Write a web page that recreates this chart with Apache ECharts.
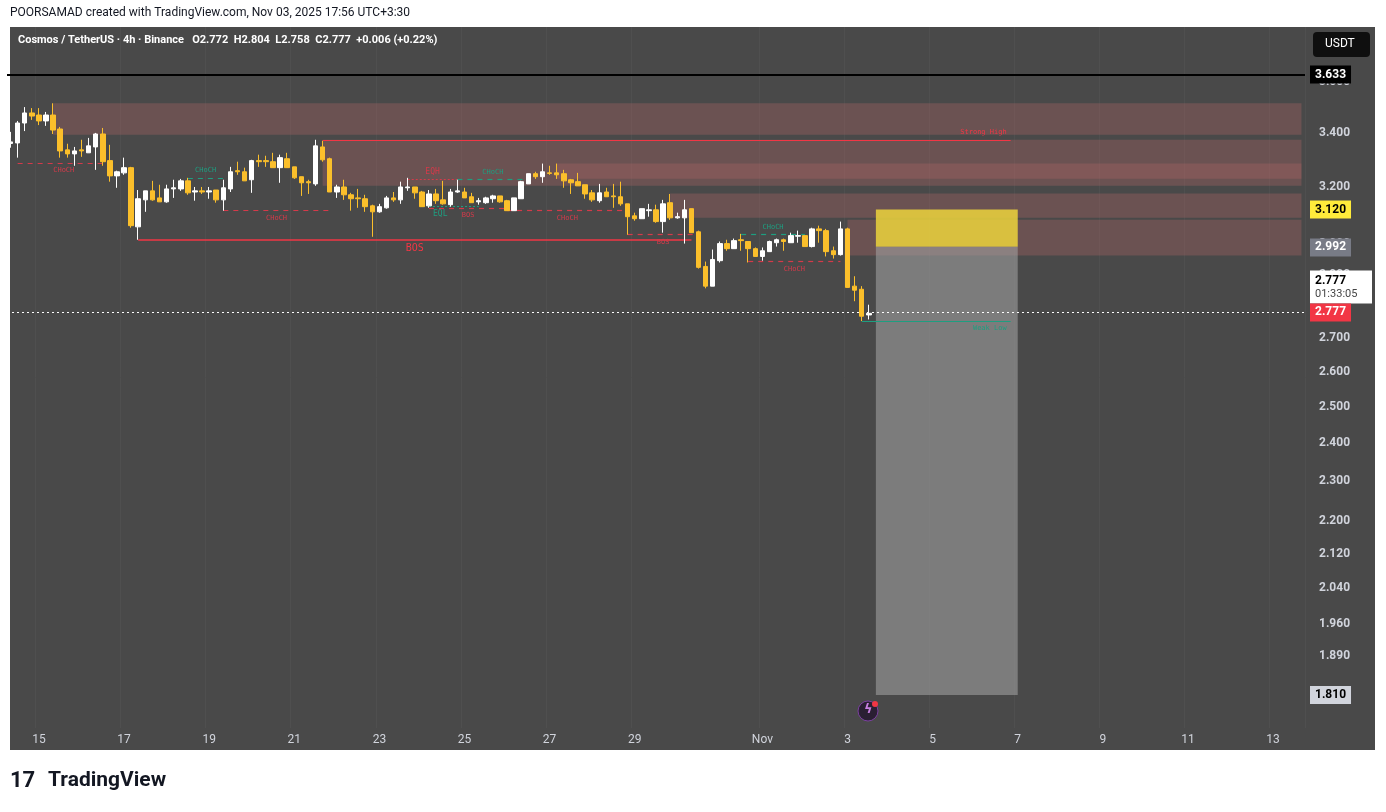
<!DOCTYPE html>
<html>
<head>
<meta charset="utf-8">
<script src="https://cdn.jsdelivr.net/npm/echarts@6/dist/echarts.min.js"></script>
<style>
  html, body { margin: 0; padding: 0; background: #ffffff; }
  #chart { width: 1386px; height: 812px; }
</style>
</head>
<body>
<div id="chart"></div>
<script>
// ATOM/USDT 4h, candles from index -4 (Oct 14 08:00) to 117 (Nov 3 12:00)
const firstIdx = -4;
const lastSlot = 178;

// [open, close, low, high]
const candles = [
  [3.360, 3.366, 3.344, 3.404], [3.362, 3.438, 3.307, 3.446], [3.438, 3.477, 3.407, 3.500], [3.477, 3.465, 3.450, 3.496],
  [3.469, 3.446, 3.430, 3.496], [3.446, 3.469, 3.427, 3.481], [3.469, 3.411, 3.396, 3.515], [3.415, 3.332, 3.307, 3.423],
  [3.336, 3.321, 3.307, 3.359], [3.321, 3.332, 3.277, 3.347], [3.336, 3.332, 3.310, 3.374], [3.325, 3.351, 3.325, 3.381],
  [3.347, 3.396, 3.262, 3.400], [3.396, 3.292, 3.277, 3.419], [3.296, 3.240, 3.219, 3.355], [3.240, 3.255, 3.197, 3.259],
  [3.251, 3.270, 3.244, 3.307], [3.270, 3.064, 3.057, 3.273], [3.060, 3.158, 3.016, 3.189], [3.154, 3.186, 3.112, 3.186],
  [3.186, 3.154, 3.151, 3.222], [3.161, 3.147, 3.147, 3.208], [3.147, 3.193, 3.144, 3.208], [3.193, 3.197, 3.161, 3.226],
  [3.193, 3.222, 3.186, 3.229], [3.222, 3.179, 3.172, 3.233], [3.182, 3.186, 3.151, 3.200], [3.186, 3.182, 3.175, 3.200],
  [3.182, 3.186, 3.158, 3.200], [3.189, 3.154, 3.144, 3.189], [3.154, 3.197, 3.116, 3.226], [3.193, 3.255, 3.182, 3.273],
  [3.259, 3.255, 3.244, 3.292], [3.255, 3.222, 3.222, 3.270], [3.226, 3.296, 3.179, 3.299], [3.296, 3.292, 3.273, 3.318],
  [3.296, 3.292, 3.273, 3.314], [3.292, 3.270, 3.270, 3.325], [3.270, 3.307, 3.215, 3.318], [3.303, 3.270, 3.270, 3.325],
  [3.273, 3.233, 3.229, 3.273], [3.237, 3.215, 3.168, 3.237], [3.219, 3.215, 3.175, 3.226], [3.211, 3.351, 3.204, 3.374],
  [3.347, 3.299, 3.292, 3.370], [3.303, 3.182, 3.182, 3.307], [3.182, 3.200, 3.161, 3.208], [3.200, 3.172, 3.154, 3.226],
  [3.172, 3.158, 3.116, 3.179], [3.161, 3.158, 3.126, 3.193], [3.158, 3.130, 3.112, 3.172], [3.133, 3.112, 3.026, 3.137],
  [3.112, 3.130, 3.109, 3.140], [3.126, 3.161, 3.123, 3.168], [3.161, 3.154, 3.147, 3.182], [3.154, 3.200, 3.140, 3.219],
  [3.197, 3.200, 3.186, 3.233], [3.200, 3.179, 3.158, 3.200], [3.182, 3.130, 3.130, 3.186], [3.133, 3.175, 3.126, 3.189],
  [3.175, 3.151, 3.140, 3.193], [3.154, 3.140, 3.137, 3.222], [3.137, 3.182, 3.130, 3.193], [3.182, 3.186, 3.179, 3.226],
  [3.182, 3.161, 3.161, 3.197], [3.165, 3.144, 3.144, 3.179], [3.147, 3.151, 3.137, 3.161], [3.144, 3.161, 3.140, 3.165],
  [3.158, 3.168, 3.144, 3.172], [3.168, 3.147, 3.144, 3.168], [3.151, 3.116, 3.116, 3.154], [3.116, 3.161, 3.116, 3.161],
  [3.158, 3.219, 3.158, 3.222], [3.211, 3.248, 3.211, 3.248], [3.248, 3.237, 3.229, 3.255], [3.237, 3.255, 3.215, 3.285],
  [3.251, 3.249, 3.244, 3.277], [3.251, 3.244, 3.229, 3.285], [3.248, 3.222, 3.197, 3.262], [3.226, 3.215, 3.175, 3.229],
  [3.219, 3.204, 3.204, 3.251], [3.208, 3.175, 3.158, 3.208], [3.179, 3.154, 3.147, 3.189], [3.151, 3.179, 3.144, 3.211],
  [3.182, 3.165, 3.165, 3.197], [3.168, 3.165, 3.126, 3.211], [3.165, 3.140, 3.133, 3.219], [3.140, 3.095, 3.033, 3.140],
  [3.098, 3.088, 3.081, 3.109], [3.088, 3.123, 3.088, 3.123], [3.116, 3.119, 3.095, 3.140], [3.119, 3.078, 3.074, 3.137],
  [3.078, 3.140, 3.040, 3.154], [3.144, 3.091, 3.084, 3.175], [3.091, 3.095, 3.088, 3.109], [3.091, 3.119, 3.003, 3.154],
  [3.123, 3.040, 3.040, 3.123], [3.043, 2.924, 2.920, 3.047], [2.927, 2.863, 2.856, 2.943], [2.863, 2.950, 2.863, 2.983],
  [2.946, 3.003, 2.940, 3.010], [3.003, 2.986, 2.979, 3.016], [2.986, 3.013, 2.986, 3.020], [3.016, 3.013, 2.979, 3.036],
  [3.010, 2.986, 2.940, 3.010], [2.986, 2.960, 2.960, 2.990], [2.960, 2.979, 2.946, 2.990], [2.976, 3.010, 2.976, 3.013],
  [3.006, 3.016, 2.993, 3.020], [3.016, 3.010, 2.979, 3.020], [3.006, 3.030, 3.006, 3.040], [3.028, 3.030, 3.006, 3.047],
  [3.030, 2.993, 2.993, 3.030], [2.993, 3.053, 2.990, 3.057], [3.053, 3.047, 3.006, 3.064], [3.047, 2.976, 2.960, 3.053],
  [2.979, 2.966, 2.953, 2.993], [2.966, 3.053, 2.963, 3.078], [3.053, 2.859, 2.859, 3.057], [2.863, 2.850, 2.815, 2.895],
  [2.853, 2.768, 2.753, 2.863], [2.772, 2.777, 2.758, 2.804]
];

// x-axis date labels: candle index -> text
const dateTicks = [0, 12, 24, 36, 48, 60, 72, 84, 102, 114, 126, 138, 150, 162, 174];
const dateLabels = ['15', '17', '19', '21', '23', '25', '27', '29', 'Nov', '3', '5', '7', '9', '11', '13'];

// price axis tick labels
const priceTicks = [3.6, 3.4, 3.2, 3.0, 2.9, 2.7, 2.6, 2.5, 2.4, 2.3, 2.2, 2.12, 2.04, 1.96, 1.89, 1.81];

// supply zones: [startIdx, top, bottom] (all run to the right edge)
const zones = [
  [2, 3.515, 3.393],
  [40, 3.374, 3.204],
  [73, 3.285, 3.230],
  [89, 3.177, 3.091],
  [114, 3.084, 2.963]
];

// structure lines: [startIdx, endIdx, price, kind, text]
const structure = [
  [-3, 10, 3.288, 'chochDn', 'CHoCH'],
  [21, 26, 3.233, 'chochUp', 'CHoCH'],
  [26, 41, 3.116, 'chochDn', 'CHoCH'],
  [52, 59, 3.226, 'eqh', 'EQH'],
  [59, 69, 3.226, 'chochUp', 'CHoCH'],
  [55, 66, 3.126, 'bosDn', 'BOS'],
  [55, 62, 3.132, 'eql', 'EQL'],
  [66, 83, 3.116, 'chochDn', 'CHoCH'],
  [83, 93, 3.033, 'bosDn', 'BOS'],
  [99, 108, 3.033, 'chochUp', 'CHoCH'],
  [100, 113, 2.943, 'chochDn', 'CHoCH'],
  [14, 92, 3.016, 'bosMain', 'BOS'],
  [40, 137, 3.374, 'strongHigh', 'Strong High'],
  [116, 137, 2.753, 'weakLow', 'Weak Low']
];

// position box (short): entry zone and target
const boxStart = 118, boxEnd = 138;
const entryTop = 3.120, entryBottom = 2.992, targetPrice = 1.810;
const lastPrice = 2.777, topLine = 3.633;

const categories = [];
for (let i = firstIdx; i <= lastSlot; i++) categories.push(String(i));
const candleData = categories.map((c, k) => k < candles.length ? candles[k] : '-');

const RED = '#d43a4a', TEAL = '#1e9e80';
const kindStyle = {
  chochDn: { color: RED, type: [5, 5], width: 1.2, pos: 'insideMiddleBottom', size: 7 },
  chochUp: { color: TEAL, type: [5, 5], width: 1.2, pos: 'insideMiddleTop', size: 7 },
  bosDn: { color: RED, type: [5, 5], width: 1.2, pos: 'insideMiddleBottom', size: 7 },
  eqh: { color: RED, type: [2, 2], width: 1, pos: 'insideMiddleTop', size: 8 },
  eql: { color: TEAL, type: [2, 2], width: 1, pos: 'insideStartBottom', size: 8 },
  bosMain: { color: '#f23645', type: 'solid', width: 1.5, pos: 'insideMiddleBottom', size: 10 },
  strongHigh: { color: '#f23645', type: 'solid', width: 1.2, pos: 'insideEndTop', size: 7 },
  weakLow: { color: TEAL, type: 'solid', width: 1.2, pos: 'insideEndBottom', size: 7 }
};

const structLines = structure.map(([a, b, p, kind, text]) => {
  const s = kindStyle[kind];
  return [
    { coord: [String(a), p], lineStyle: { color: s.color, type: s.type, width: s.width },
      label: { show: true, formatter: text, position: s.pos, color: s.color, fontSize: s.size, distance: 4,
               fontFamily: 'DejaVu Sans Mono' } },
    { coord: [String(b), p] }
  ];
});

const hidden = { color: 'rgba(0,0,0,0)', width: 0.01 };
function tag(price, text, bg, fg, line) {
  return {
    yAxis: price,
    lineStyle: line || hidden,
    label: { show: true, position: 'end', formatter: text, backgroundColor: bg, color: fg,
             fontSize: 12, fontWeight: 'bold', padding: [3, 5, 3, 5], distance: 5, fontFamily: 'Roboto' }
  };
}

const tags = [
  tag(topLine, '3.633', '#000000', '#ffffff', { color: '#000000', width: 2, type: 'solid' }),
  tag(entryTop, entryTop.toFixed(3), '#ffeb3b', '#000000'),
  tag(entryBottom, entryBottom.toFixed(3), '#787b86', '#ffffff'),
  tag(targetPrice, targetPrice.toFixed(3), '#d1d4dc', '#000000'),
  {
    yAxis: 2.856, lineStyle: hidden,
    label: { show: true, position: 'end', distance: 5, backgroundColor: '#ffffff', padding: [3, 5, 2, 5],
             formatter: '{a|' + lastPrice.toFixed(3) + '}\n{b|01:33:05}', width: 52,
             rich: { a: { color: '#000', fontSize: 12, fontWeight: 'bold', fontFamily: 'Roboto', lineHeight: 14 },
                     b: { color: '#444', fontSize: 11, fontFamily: 'Roboto', lineHeight: 14 } } }
  },
  tag(lastPrice, lastPrice.toFixed(3), '#f23645', '#ffffff', { color: '#ffffff', width: 1, type: [2, 3] })
];

const zoneAreas = zones.map(([a, t, b]) => [
  { xAxis: String(a), yAxis: t, itemStyle: { color: 'rgba(170,100,100,0.36)' } },
  { xAxis: String(lastSlot), yAxis: b }
]);
zoneAreas.push([
  { xAxis: String(boxStart), yAxis: entryTop, itemStyle: { color: 'rgba(236,212,60,0.85)' } },
  { xAxis: String(boxEnd), yAxis: entryBottom }
]);
zoneAreas.push([
  { xAxis: String(boxStart), yAxis: entryBottom, itemStyle: { color: 'rgba(165,165,165,0.55)' } },
  { xAxis: String(boxEnd), yAxis: targetPrice }
]);

const chart = echarts.init(document.getElementById('chart'));
chart.setOption({
  backgroundColor: '#ffffff',
  animation: false,
  graphic: [
    { type: 'rect', shape: { x: 10, y: 27, width: 1365, height: 723 }, style: { fill: '#494949' }, z: -10 },
    { type: 'text', left: 10, top: 7, style: { text: 'POORSAMAD created with TradingView.com, Nov 03, 2025 17:56 UTC+3:30',
      fill: '#131722', font: '12px Roboto' } },
    { type: 'text', left: 18, top: 35, style: { text: 'Cosmos / TetherUS · 4h · Binance   O2.772  H2.804  L2.758  C2.777  +0.006 (+0.22%)',
      fill: '#ffffff', font: 'bold 11px Roboto' }, z: 10 },
    { type: 'rect', shape: { x: 1313, y: 32, width: 57, height: 25, r: 4 }, style: { fill: '#0f0f0f' }, z: 10 },
    { type: 'text', left: 1325, top: 38, style: { text: 'USDT', fill: '#ffffff', font: '12px Roboto' }, z: 11 },
    { type: 'circle', shape: { cx: 868, cy: 711, r: 10 }, style: { fill: '#2a1f33', stroke: '#7b3fa0', lineWidth: 1 }, z: 10 },
    { type: 'text', left: 864, top: 703, style: { text: 'ϟ', fill: '#c77ee0', font: 'bold 13px DejaVu Sans' }, z: 11 },
    { type: 'circle', shape: { cx: 875, cy: 704, r: 3 }, style: { fill: '#f23645' }, z: 11 },
    { type: 'text', left: 10, top: 770, style: { text: '17', fill: '#131722', font: 'bold 22px Roboto' } },
    { type: 'text', left: 48, top: 770, style: { text: 'TradingView', fill: '#131722', font: 'bold 21px Roboto' } }
  ],
  grid: { left: 7, right: 81, top: 27, bottom: 84 },
  xAxis: {
    type: 'category', data: categories, boundaryGap: true,
    axisLine: { show: false }, axisTick: { show: false },
    axisLabel: {
      interval: (i, v) => dateTicks.includes(Number(v)),
      formatter: v => dateLabels[dateTicks.indexOf(Number(v))],
      color: '#d1d4dc', fontSize: 12, fontFamily: 'Roboto', margin: 6
    },
    splitLine: { show: true, interval: (i, v) => dateTicks.includes(Number(v)), lineStyle: { color: '#4f4f4f' } }
  },
  yAxis: {
    type: 'log', logBase: 10, position: 'right', min: 1.744, max: 3.829, scale: true,
    axisLine: { show: false }, axisTick: { show: false },
    axisLabel: { customValues: priceTicks, formatter: v => Number(v).toFixed(3), color: '#d1d4dc',
                 fontSize: 12, fontFamily: 'Roboto', fontWeight: 'bold', margin: 14 },
    splitLine: { show: false }
  },
  series: [{
    type: 'candlestick',
    data: candleData,
    barWidth: 5,
    itemStyle: { color: '#ffffff', color0: '#fbbf2b', borderColor: '#ffffff', borderColor0: '#fbbf2b', borderWidth: 1 },
    markArea: { silent: true, data: zoneAreas, z: 1 },
    markLine: { silent: true, symbol: 'none', animation: false, data: structLines.concat(tags) },
    z: 5
  }]
});
</script>
</body>
</html>
